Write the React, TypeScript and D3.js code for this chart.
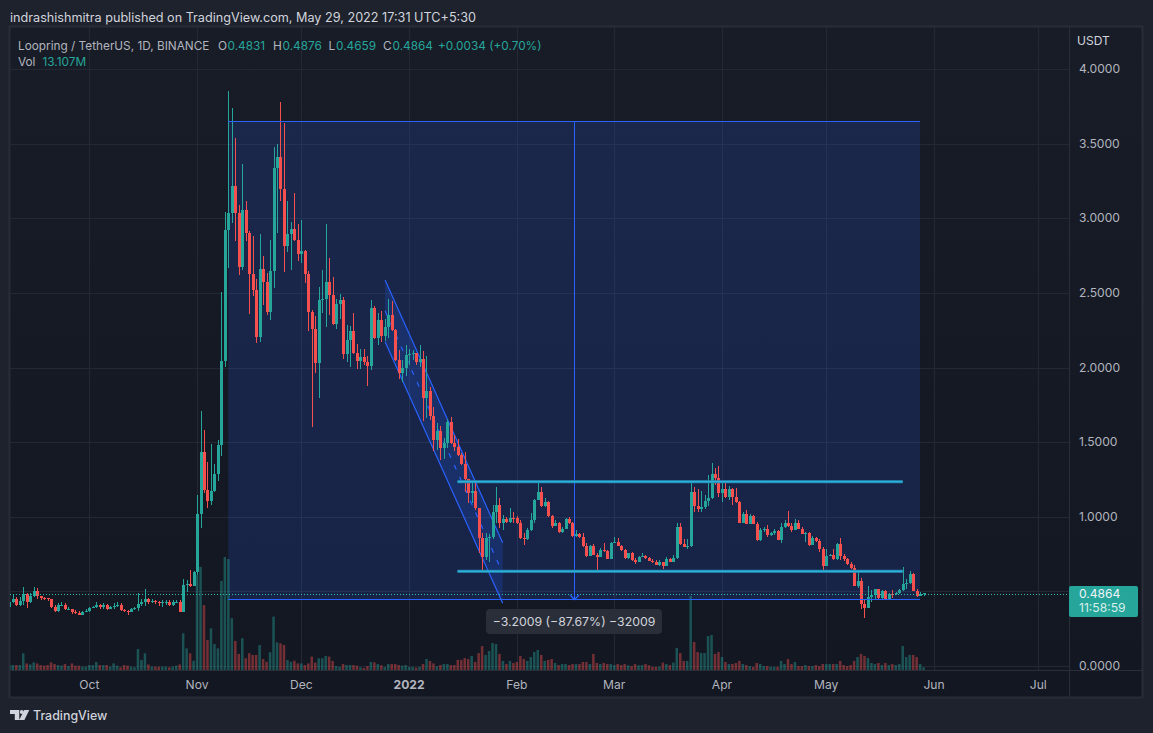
import React from "react";
import * as d3 from "d3";

const closes = [.431,.449,.409,.436,.482,.431,.469,.503,.469,.458,.453,.449,.398,.371,.409,.411,.38,.382,.362,.358,.344,.364,.371,.391,.398,.409,.393,.409,.382,.395,.402,.411,.375,.369,.364,.382,.387,.413,.427,.449,.427,.436,.427,.42,.427,.431,.409,.429,.431,.364,.543,
.549,.539,.632,1.018,1.434,1.179,1.108,1.175,1.286,1.481,2.044,2.921,3.035,3.216,3.033,2.675,3.055,2.903,2.626,2.519,2.206,2.66,2.575,2.374,2.647,3.337,3.41,3.198,2.814,2.894,2.928,2.854,2.76,2.781,2.626,2.372,2.258,2.03,2.452,2.459,2.573,2.486,2.291,2.425,2.452,2.09,2.184,2.245,2.097,2.044,2.07,2.037,2.01,2.399,2.198,2.318,2.211,2.271,2.352,2.251,2.05,1.963,1.997,2.084,2.09,2.097,2.037,2.057,1.796,1.843,1.675,1.514,1.575,1.461,1.494,1.635,1.494,1.467,1.414,
1.353,1.25,1.157,1.172,1.056,.855,.732,.86,.862,1.034,1.079,.956,.985,.962,.994,.989,.956,.855,.849,.911,.978,1.112,1.168,1.074,1.101,1.005,.94,.956,.9,.918,.985,.956,.873,.882,.866,.806,.739,.804,.744,.732,.777,.77,.717,.826,.833,.806,.777,.721,.755,.71,.699,.732,.737,.721,.706,.694,.677,.699,.672,.717,.699,.726,.929,
.815,.799,.804,1.163,1.074,1.052,1.065,1.105,1.123,1.286,1.259,1.157,1.186,1.132,1.186,1.132,1.099,.958,1.018,.953,1.007,.953,.844,.911,.918,.878,.889,.904,.844,.931,.958,.938,.911,.958,.918,.886,.889,.811,.857,.837,.786,.67,.739,.741,.715,.817,.737,.715,.683,.654,.538,.569,.417,.389,.462,.476,.516,.456,.502,.442,.482,.48,.489,.509,.549,.556,.616,.502,.469,.483,.4864];
const highs = [.455,.483,.46,.46,.527,.49,.49,.53,.52,.47,.46,.455,.45,.41,.42,.43,.42,.395,.385,.375,.37,.37,.385,.395,.405,.428,.415,.42,.415,.405,.42,.428,.42,.385,.375,.39,.395,.49,.45,.516,.455,.45,.44,.435,.44,.445,.44,.44,.44,.44,.583,
.576,.643,.639,1.146,1.709,1.581,1.367,1.487,1.353,1.514,2.506,3.042,3.853,3.739,3.538,3.089,3.363,3.116,2.915,2.881,2.593,2.894,2.747,2.633,2.854,3.477,3.497,3.779,3.638,3.116,2.975,3.169,2.961,2.988,2.785,2.647,2.385,2.345,2.539,2.653,2.961,2.734,2.606,2.459,2.492,2.472,2.285,2.278,2.365,2.157,2.124,2.124,2.077,2.452,2.412,2.365,2.379,2.325,2.459,2.446,2.26,2.117,2.05,2.151,2.124,2.117,2.1,2.151,2.11,2.077,1.869,1.735,1.628,1.608,1.528,1.655,1.668,1.548,1.521,
1.425,1.436,1.246,1.242,1.235,1.056,.889,.889,.884,1.078,1.201,1.128,1.012,1.0,1.056,1.034,1.005,.978,.889,.922,1.023,1.117,1.224,1.201,1.123,1.105,1.012,.978,.967,.929,.994,.996,.967,.911,.889,.889,.822,.811,.817,.755,.788,.822,.777,.828,.862,.855,.811,.782,.759,.766,.721,.739,.755,.741,.732,.715,.71,.71,.699,.732,.721,.744,.956,
.956,.849,.849,1.228,1.197,1.183,1.172,1.145,1.28,1.358,1.326,1.34,1.224,1.224,1.206,1.19,1.195,1.105,1.034,1.045,1.018,1.012,.967,.922,.929,.945,.9,.918,.91,.956,.978,1.038,.96,.982,.978,.933,.9,.9,.871,.866,.849,.799,.786,.75,.784,.824,.857,.75,.726,.697,.674,.63,.587,.44,.536,.509,.516,.516,.51,.509,.491,.507,.496,.513,.663,.581,.636,.625,.513,.494,.4876];
const lows = [.39,.42,.40,.40,.41,.39,.42,.46,.45,.44,.44,.435,.39,.36,.365,.40,.375,.375,.35,.35,.34,.345,.36,.365,.39,.39,.385,.385,.375,.38,.385,.395,.37,.36,.345,.36,.375,.37,.40,.40,.415,.42,.415,.405,.395,.41,.40,.40,.42,.36,.36,
.498,.53,.543,.61,.925,1.159,1.059,1.079,1.168,1.24,1.407,2.005,2.667,2.968,2.85,2.62,2.653,2.85,2.358,2.479,2.166,2.171,2.419,2.352,2.318,2.535,2.903,3.116,2.642,2.774,2.653,2.85,2.714,2.702,2.566,2.245,1.603,1.963,1.796,2.365,2.271,2.352,2.288,2.258,2.325,2.057,2.037,2.003,2.09,1.99,1.99,2.017,1.876,1.983,2.19,2.151,2.171,2.178,2.198,2.245,2.044,1.923,1.903,1.943,2.017,2.05,2.017,2.003,1.642,1.662,1.648,1.441,1.447,1.38,1.387,1.461,1.49,1.441,1.41,
1.347,1.168,1.09,1.09,1.045,.755,.643,.71,.699,.851,.956,.922,.911,.956,.956,.956,.951,.851,.81,.844,.907,.956,1.112,1.067,1.067,1.0,.922,.938,.889,.893,.916,.951,.866,.862,.86,.8,.732,.737,.741,.627,.728,.766,.715,.717,.822,.804,.773,.715,.715,.706,.683,.695,.728,.715,.703,.688,.674,.672,.648,.672,.697,.695,.717,
.811,.795,.786,.795,1.034,1.034,1.034,1.05,1.074,1.119,1.212,1.134,1.101,1.128,1.112,1.079,1.09,.955,.955,.95,.95,.95,.84,.84,.895,.866,.871,.878,.842,.826,.922,.933,.9,.909,.915,.883,.833,.806,.81,.829,.766,.643,.67,.735,.71,.712,.71,.705,.68,.65,.536,.52,.384,.324,.389,.429,.449,.452,.45,.44,.44,.456,.476,.482,.5,.516,.548,.5,.462,.467,.4659];
const volumes = [24,24,24,24,81,32,27,37,32,24,21,24,37,29,24,21,29,19,32,21,21,16,16,24,24,39,24,24,24,16,32,21,13,24,21,16,13,102,49,81,27,16,16,16,16,16,13,16,21,27,178,105,81,45,460,500,315,146,202,126,105,432,548,538,251,141,78,154,57,81,73,73,121,53,40,86,259,134,129,121,49,40,45,32,
32,24,32,65,36,57,57,68,65,44,19,15,29,24,24,24,21,13,10,19,39,37,29,23,15,29,29,29,24,21,24,15,15,11,15,29,53,44,32,18,24,29,29,24,24,49,49,58,53,68,39,82,116,73,92,131,126,78,44,29,44,34,39,68,53,44,63,87,97,73,44,49,53,34,24,29,29,
24,29,29,29,39,39,29,78,34,29,34,29,29,24,29,
24,29,23,19,29,23,24,29,23,15,15,16,36,29,24,36,107,82,44,44,359,136,87,82,82,165,170,78,87,63,39,29,29,34,44,29,24,19,15,34,29,19,19,15,15,15,44,29,53,29,39,19,19,24,19,19,24,19,29,29,29,29,29,44,24,19,24,44,63,78,68,58,34,29,34,24,34,24,29,24,29,116,63,73,73,63,29,13.107];

const firstOpen = 0.398;
const gridPrices = [0, 0.5, 1, 1.5, 2, 2.5, 3, 3.5, 4];
const priceTicks = [0, 1, 1.5, 2, 2.5, 3, 3.5, 4];
const monthLabels: [string, string, boolean][] = [
  ["2021-10-01", "Oct", false], ["2021-11-01", "Nov", false], ["2021-12-01", "Dec", false],
  ["2022-01-01", "2022", true], ["2022-02-01", "Feb", false], ["2022-03-01", "Mar", false],
  ["2022-04-01", "Apr", false], ["2022-05-01", "May", false], ["2022-06-01", "Jun", false], ["2022-07-01", "Jul", false],
];
const measureDays = ["2021-11-10T00:00Z", "2022-05-28T00:00Z"];
const measurePrices = [3.651, 0.4501];
const arrowDay = "2022-02-17T12:00Z";
const channelDays = ["2021-12-25T02:00Z", "2022-01-27T22:00Z"];
const channelUpper = [2.586, 0.826];
const channelLower = [2.173, 0.42];
const levelDays = ["2022-01-14T22:00Z", "2022-05-23T00:00Z"];
const levels = [1.235, 0.6345];
const lastPrice = 0.4864;

const GREEN = "#26a69a", RED = "#f6504e", TXT = "#b2b5be", FONT = "Inter, 'Noto Sans', sans-serif";
const L = 10, R = 1069, T = 27, AX = 670;

const x = d3.scaleUtc().domain([new Date("2021-10-01T00:00Z"), new Date("2022-07-01T00:00Z")]).range([89.3, 1038.3]);
const y = d3.scaleLinear().domain([0, 4]).range([666, 69]);
const v = d3.scaleLinear().domain([0, 1000]).range([AX, AX - 206.2]);
const day0 = Date.UTC(2021, 8, 8);
const dx = (i: number) => x(new Date(day0 + i * 864e5));
const X = (s: string) => x(new Date(s));
const line = d3.line();

export default function App() {
  React.useEffect(() => { document.body.style.margin = "0"; document.body.style.background = "#1e222d"; }, []);
  const bars = closes.map((c, i) => {
    const o = i === 0 ? firstOpen : closes[i - 1];
    return { i, o, c, h: highs[i], l: lows[i], vol: volumes[i], up: c >= o };
  });
  const rx0 = X(measureDays[0]), rx1 = X(measureDays[1]);
  const ry0 = Math.round(y(measurePrices[0])) + .5, ry1 = Math.round(y(measurePrices[1])) + .5;
  const ax = Math.round(X(arrowDay)) + .5;
  const cx0 = X(channelDays[0]), cx1 = X(channelDays[1]);
  const chanU: [number, number][] = [[cx0, y(channelUpper[0])], [cx1, y(channelUpper[1])]];
  const chanL: [number, number][] = [[cx0, y(channelLower[0])], [cx1, y(channelLower[1])]];
  const chanM: [number, number][] = [[cx0, (chanU[0][1] + chanL[0][1]) / 2], [cx1, (chanU[1][1] + chanL[1][1]) / 2]];
  const lx0 = X(levelDays[0]), lx1 = X(levelDays[1]);
  const ly = Math.round(y(lastPrice) + .8) + .5;
  return (
    <svg width={1153} height={733} style={{ display: "block", position: "absolute", left: 0, top: 0 }} fontFamily={FONT}>
      <defs>
        <linearGradient id="pane" x1="0" y1="0" x2="0" y2="1">
          <stop offset="0" stopColor="#181c27" />
          <stop offset="1" stopColor="#131722" />
        </linearGradient>
        <clipPath id="plot"><rect x={L} y={T} width={R - L} height={AX - T} /></clipPath>
      </defs>
      <rect width={1153} height={733} fill="#1e222d" />
      <rect x={9.5} y={26.5} width={1133} height={671} fill="url(#pane)" stroke="#282c38" strokeWidth={2} />
      <text x={10} y={22} fontSize={12.65} fill="#d1d4dc">indrashishmitra published on TradingView.com, May 29, 2022 17:31 UTC+5:30</text>

      <g stroke="#242834" strokeWidth={1} shapeRendering="crispEdges">
        {gridPrices.map(t => <line key={t} x1={L} x2={R} y1={Math.round(y(t)) + .5} y2={Math.round(y(t)) + .5} />)}
        {monthLabels.map(m => <line key={m[0]} x1={Math.round(X(m[0])) + .5} x2={Math.round(X(m[0])) + .5} y1={T} y2={AX} />)}
      </g>

      <g clipPath="url(#plot)">
        <rect x={rx0} y={ry0} width={rx1 - rx0} height={ry1 - ry0} fill="#2962ff" fillOpacity={0.17} />
        <g>
          {bars.map(b => (
            <rect key={b.i} x={dx(b.i) - 1.25} width={2.5} y={v(b.vol)} height={AX - v(b.vol)} fill={b.up ? GREEN : RED} fillOpacity={0.42} />
          ))}
        </g>
        <path d={`M${chanU[0]}L${chanU[1]}L${chanL[1]}L${chanL[0]}Z`} fill="#2962ff" fillOpacity={0.18} />
        <path d={line(chanU)!} stroke="#2962ff" strokeWidth={1.2} fill="none" />
        <path d={line(chanL)!} stroke="#2962ff" strokeWidth={1.2} fill="none" />
        <path d={line(chanM)!} stroke="#2962ff" strokeWidth={1.2} strokeDasharray="5 8" fill="none" />
        <g shapeRendering="crispEdges">
          {bars.map(b => {
            const col = b.up ? GREEN : RED;
            const px = Math.round(dx(b.i));
            const top = y(Math.max(b.o, b.c)), bot = y(Math.min(b.o, b.c));
            return (
              <g key={b.i}>
                <rect x={px} width={1} y={y(b.h)} height={Math.max(y(b.l) - y(b.h), 1)} fill={col} />
                <rect x={px - 1} width={3} y={top} height={Math.max(bot - top, 1)} fill={col} />
              </g>
            );
          })}
        </g>
        <line x1={L} x2={R} y1={ly} y2={ly} stroke="#2ac0b0" strokeWidth={1} strokeDasharray="1 2" shapeRendering="crispEdges" />
        <g shapeRendering="crispEdges" stroke="#2962ff" strokeWidth={1}>
          <line x1={rx0} x2={rx1} y1={ry0} y2={ry0} />
          <line x1={rx0} x2={rx1} y1={ry1} y2={ry1} />
          <line x1={ax} x2={ax} y1={ry0} y2={ry1} />
        </g>
        <path d={`M${ax - 4.5},${ry1 - 4.5}L${ax},${ry1}L${ax + 4.5},${ry1 - 4.5}`} stroke="#2962ff" strokeWidth={1.3} fill="none" />
        {levels.map(p => (
          <g key={p}>
            <line x1={lx0} x2={lx1} y1={y(p)} y2={y(p)} stroke="#1f7fa6" strokeWidth={3} />
            <line x1={lx0} x2={lx1} y1={y(p)} y2={y(p)} stroke="#2db0da" strokeWidth={1.8} />
          </g>
        ))}
      </g>

      <g>
        <rect x={486} y={609} width={176} height={25} rx={4} fill="#2a2e39" />
        <text x={574} y={626} fontSize={12.3} fill="#d1d4dc" textAnchor="middle">−3.2009 (−87.67%) −32009</text>
      </g>

      <line x1={L} x2={1142} y1={AX + .5} y2={AX + .5} stroke="#2a2e39" />
      <line x1={R + .5} x2={R + .5} y1={T} y2={697} stroke="#2a2e39" />

      <g fontSize={11.8}>
        <text x={18} y={49.5} fill={TXT}>Loopring / TetherUS, 1D, BINANCE</text>
        {[["O", "0.4831", 218, 227.5], ["H", "0.4876", 273, 282.5], ["L", "0.4659", 328.5, 336], ["C", "0.4864", 383, 392.5]].map(r => (
          <g key={r[0] as string}>
            <text x={r[2] as number} y={49.5} fill={TXT}>{r[0]}</text>
            <text x={r[3] as number} y={49.5} fill={GREEN}>{r[1]}</text>
          </g>
        ))}
        <text x={438} y={49.5} fill={GREEN}>+0.0034 (+0.70%)</text>
        <text x={18} y={66} fill={TXT}>Vol</text>
        <text x={42.5} y={66} fill={GREEN}>13.107M</text>
      </g>

      <text x={1077} y={45} fontSize={12} fill="#d1d4dc">USDT</text>
      <g fontSize={12.1} fill={TXT}>
        {priceTicks.map(t => <text key={t} x={1079} y={y(t) + 4.2}>{t.toFixed(4)}</text>)}
      </g>
      <g fontSize={12.1} fill={TXT} textAnchor="middle">
        {monthLabels.map(m => (
          <text key={m[0]} x={X(m[0])} y={689} fontWeight={m[2] ? 700 : 400}>{m[1]}</text>
        ))}
      </g>

      <rect x={1069} y={586} width={69} height={31} rx={2} fill={GREEN} />
      <text x={1079} y={598} fontSize={12.1} fill="#f0f3fa">{lastPrice.toFixed(4)}</text>
      <text x={1079} y={612} fontSize={12.1} fill="#d8efec">11:58:59</text>

      <path d="M10,710H19.3V720H14.8V714H10ZM24.2,710H29.3L24.4,720H19.2Z" fill="#d1d4dc" />
      <circle cx={21.8} cy={712} r={2} fill="#d1d4dc" />
      <text x={33} y={720} fontSize={12.4} fontWeight={500} fill="#d1d4dc">TradingView</text>
    </svg>
  );
}
